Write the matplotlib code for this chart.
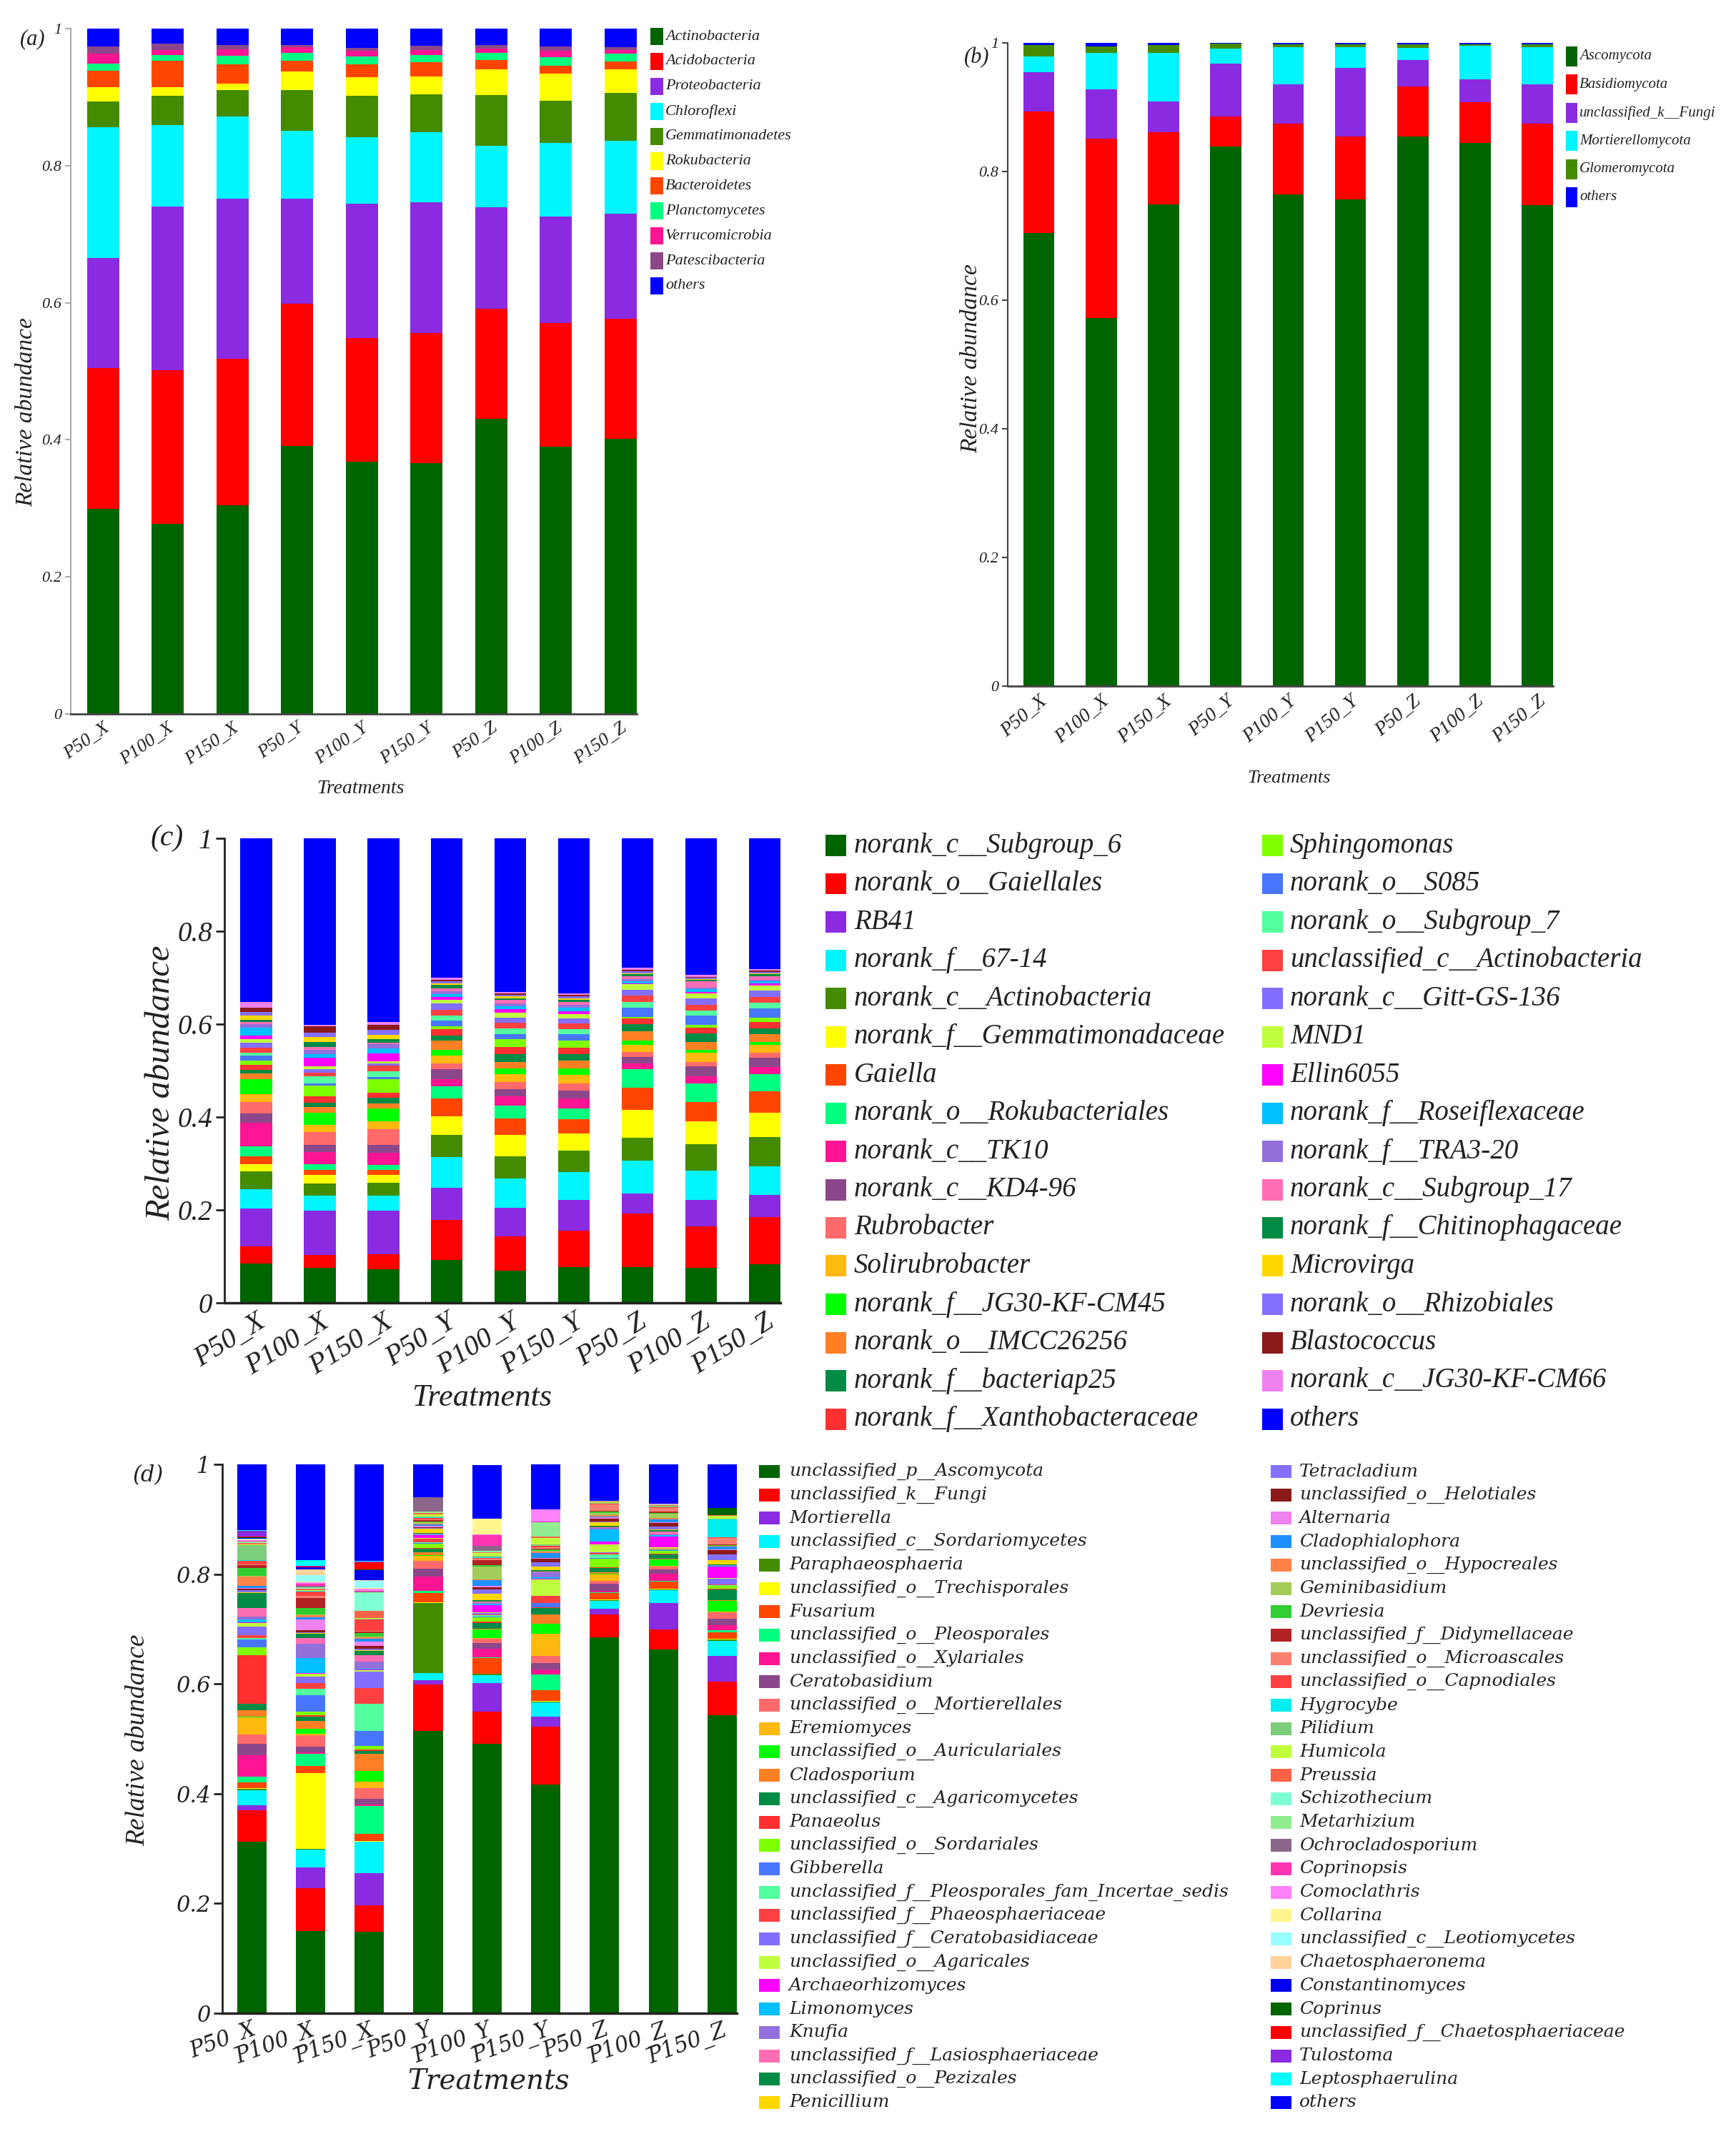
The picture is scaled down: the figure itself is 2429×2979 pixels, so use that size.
import numpy as np
import matplotlib
matplotlib.use("Agg")
import matplotlib.pyplot as plt
from matplotlib.patches import Rectangle

plt.rcParams['font.family'] = ['Liberation Serif', 'DejaVu Serif']
plt.rcParams['font.style'] = 'italic'

W, H = 2429, 2979

samples = ['P50_X', 'P100_X', 'P150_X', 'P50_Y', 'P100_Y', 'P150_Y', 'P50_Z', 'P100_Z', 'P150_Z']

# (a) bacterial phyla, one row per phylum, one value per sample
phylum_bact_labels = ['Actinobacteria', 'Acidobacteria', 'Proteobacteria', 'Chloroflexi', 'Gemmatimonadetes',
                      'Rokubacteria', 'Bacteroidetes', 'Planctomycetes', 'Verrucomicrobia', 'Patescibacteria',
                      'others']
phylum_bact = [
    [0.299, 0.277, 0.305, 0.391, 0.368, 0.366, 0.431, 0.390, 0.401],
    [0.206, 0.225, 0.213, 0.208, 0.180, 0.190, 0.160, 0.180, 0.176],
    [0.160, 0.238, 0.234, 0.153, 0.197, 0.191, 0.148, 0.156, 0.153],
    [0.191, 0.119, 0.120, 0.099, 0.096, 0.102, 0.090, 0.107, 0.106],
    [0.038, 0.043, 0.038, 0.059, 0.061, 0.055, 0.074, 0.062, 0.070],
    [0.021, 0.012, 0.010, 0.027, 0.027, 0.026, 0.038, 0.039, 0.035],
    [0.023, 0.039, 0.028, 0.016, 0.019, 0.021, 0.013, 0.012, 0.011],
    [0.011, 0.008, 0.012, 0.012, 0.011, 0.010, 0.011, 0.012, 0.011],
    [0.014, 0.008, 0.010, 0.008, 0.009, 0.008, 0.006, 0.010, 0.006],
    [0.011, 0.009, 0.006, 0.003, 0.004, 0.006, 0.005, 0.006, 0.004],
    [0.026, 0.022, 0.024, 0.024, 0.028, 0.025, 0.024, 0.026, 0.027],
]

# (b) fungal phyla
phylum_fungi_labels = ['Ascomycota', 'Basidiomycota', 'unclassified_k__Fungi', 'Mortierellomycota',
                       'Glomeromycota', 'others']
phylum_fungi = [
    [0.704, 0.572, 0.749, 0.839, 0.764, 0.757, 0.855, 0.845, 0.748],
    [0.189, 0.279, 0.112, 0.047, 0.111, 0.098, 0.077, 0.063, 0.127],
    [0.061, 0.077, 0.048, 0.082, 0.061, 0.106, 0.041, 0.035, 0.061],
    [0.025, 0.057, 0.076, 0.023, 0.057, 0.032, 0.019, 0.053, 0.057],
    [0.018, 0.010, 0.012, 0.008, 0.005, 0.005, 0.006, 0.002, 0.005],
    [0.003, 0.005, 0.003, 0.001, 0.002, 0.002, 0.002, 0.002, 0.002],
]

# (c) bacterial genera
genus_bact_labels = ['norank_c__Subgroup_6', 'norank_o__Gaiellales', 'RB41', 'norank_f__67-14',
                     'norank_c__Actinobacteria', 'norank_f__Gemmatimonadaceae', 'Gaiella',
                     'norank_o__Rokubacteriales', 'norank_c__TK10', 'norank_c__KD4-96', 'Rubrobacter',
                     'Solirubrobacter', 'norank_f__JG30-KF-CM45', 'norank_o__IMCC26256', 'norank_f__bacteriap25',
                     'norank_f__Xanthobacteraceae', 'Sphingomonas', 'norank_o__S085', 'norank_o__Subgroup_7',
                     'unclassified_c__Actinobacteria', 'norank_c__Gitt-GS-136', 'MND1', 'Ellin6055',
                     'norank_f__Roseiflexaceae', 'norank_f__TRA3-20', 'norank_c__Subgroup_17',
                     'norank_f__Chitinophagaceae', 'Microvirga', 'norank_o__Rhizobiales', 'Blastococcus',
                     'norank_c__JG30-KF-CM66', 'others']
genus_bact = [
    [0.085, 0.075, 0.073, 0.092, 0.070, 0.077, 0.077, 0.075, 0.083],
    [0.036, 0.028, 0.031, 0.087, 0.073, 0.079, 0.115, 0.090, 0.101],
    [0.082, 0.095, 0.094, 0.068, 0.062, 0.066, 0.043, 0.056, 0.048],
    [0.042, 0.033, 0.033, 0.067, 0.062, 0.060, 0.071, 0.063, 0.062],
    [0.038, 0.026, 0.027, 0.047, 0.049, 0.045, 0.050, 0.058, 0.063],
    [0.016, 0.018, 0.017, 0.040, 0.045, 0.037, 0.059, 0.049, 0.053],
    [0.016, 0.011, 0.011, 0.039, 0.036, 0.031, 0.048, 0.041, 0.046],
    [0.022, 0.013, 0.011, 0.026, 0.028, 0.024, 0.040, 0.040, 0.036],
    [0.051, 0.025, 0.026, 0.015, 0.019, 0.021, 0.012, 0.015, 0.016],
    [0.020, 0.016, 0.017, 0.022, 0.016, 0.017, 0.015, 0.022, 0.020],
    [0.024, 0.027, 0.034, 0.013, 0.015, 0.015, 0.010, 0.009, 0.010],
    [0.018, 0.016, 0.017, 0.016, 0.017, 0.019, 0.016, 0.021, 0.018],
    [0.031, 0.027, 0.028, 0.013, 0.012, 0.013, 0.008, 0.005, 0.005],
    [0.013, 0.011, 0.011, 0.019, 0.014, 0.017, 0.020, 0.018, 0.018],
    [0.008, 0.010, 0.011, 0.012, 0.018, 0.015, 0.016, 0.018, 0.012],
    [0.011, 0.013, 0.012, 0.014, 0.015, 0.014, 0.012, 0.013, 0.014],
    [0.008, 0.023, 0.029, 0.005, 0.016, 0.015, 0.003, 0.005, 0.009],
    [0.011, 0.005, 0.004, 0.012, 0.012, 0.013, 0.021, 0.020, 0.020],
    [0.007, 0.015, 0.012, 0.011, 0.012, 0.012, 0.012, 0.011, 0.012],
    [0.010, 0.008, 0.012, 0.013, 0.012, 0.011, 0.014, 0.013, 0.012],
    [0.011, 0.008, 0.005, 0.013, 0.011, 0.011, 0.012, 0.014, 0.014],
    [0.007, 0.006, 0.005, 0.009, 0.011, 0.009, 0.012, 0.010, 0.011],
    [0.008, 0.018, 0.017, 0.005, 0.007, 0.007, 0.002, 0.003, 0.004],
    [0.017, 0.008, 0.010, 0.007, 0.007, 0.008, 0.005, 0.006, 0.005],
    [0.008, 0.010, 0.010, 0.006, 0.005, 0.006, 0.004, 0.004, 0.004],
    [0.004, 0.005, 0.003, 0.006, 0.008, 0.006, 0.006, 0.013, 0.007],
    [0.006, 0.012, 0.007, 0.007, 0.004, 0.004, 0.004, 0.003, 0.004],
    [0.008, 0.010, 0.010, 0.004, 0.004, 0.004, 0.003, 0.002, 0.003],
    [0.008, 0.010, 0.010, 0.004, 0.003, 0.004, 0.004, 0.003, 0.003],
    [0.009, 0.014, 0.011, 0.003, 0.003, 0.003, 0.003, 0.002, 0.002],
    [0.013, 0.002, 0.007, 0.005, 0.004, 0.003, 0.005, 0.004, 0.004],
    [0.352, 0.402, 0.395, 0.300, 0.330, 0.334, 0.278, 0.294, 0.281],
]

# (d) fungal genera
genus_fungi_labels = ['unclassified_p__Ascomycota', 'unclassified_k__Fungi', 'Mortierella',
                      'unclassified_c__Sordariomycetes', 'Paraphaeosphaeria', 'unclassified_o__Trechisporales',
                      'Fusarium', 'unclassified_o__Pleosporales', 'unclassified_o__Xylariales', 'Ceratobasidium',
                      'unclassified_o__Mortierellales', 'Eremiomyces', 'unclassified_o__Auriculariales',
                      'Cladosporium', 'unclassified_c__Agaricomycetes', 'Panaeolus', 'unclassified_o__Sordariales',
                      'Gibberella', 'unclassified_f__Pleosporales_fam_Incertae_sedis',
                      'unclassified_f__Phaeosphaeriaceae', 'unclassified_f__Ceratobasidiaceae',
                      'unclassified_o__Agaricales', 'Archaeorhizomyces', 'Limonomyces', 'Knufia',
                      'unclassified_f__Lasiosphaeriaceae', 'unclassified_o__Pezizales', 'Penicillium',
                      'Tetracladium', 'unclassified_o__Helotiales', 'Alternaria', 'Cladophialophora',
                      'unclassified_o__Hypocreales', 'Geminibasidium', 'Devriesia', 'unclassified_f__Didymellaceae',
                      'unclassified_o__Microascales', 'unclassified_o__Capnodiales', 'Hygrocybe', 'Pilidium',
                      'Humicola', 'Preussia', 'Schizothecium', 'Metarhizium', 'Ochrocladosporium', 'Coprinopsis',
                      'Comoclathris', 'Collarina', 'unclassified_c__Leotiomycetes', 'Chaetosphaeronema',
                      'Constantinomyces', 'Coprinus', 'unclassified_f__Chaetosphaeriaceae', 'Tulostoma',
                      'Leptosphaerulina', 'others']
genus_fungi = [
    [0.312, 0.150, 0.148, 0.514, 0.491, 0.417, 0.685, 0.663, 0.543],
    [0.058, 0.078, 0.049, 0.085, 0.059, 0.105, 0.041, 0.036, 0.061],
    [0.009, 0.037, 0.058, 0.008, 0.051, 0.018, 0.011, 0.048, 0.047],
    [0.027, 0.033, 0.057, 0.013, 0.015, 0.027, 0.014, 0.024, 0.028],
    [0.003, 0.002, 0.001, 0.128, 0.002, 0.001, 0.002, 0.001, 0.002],
    [0.001, 0.137, 0.001, 0.001, 0.001, 0.001, 0.001, 0.001, 0.001],
    [0.011, 0.014, 0.013, 0.017, 0.028, 0.020, 0.011, 0.014, 0.012],
    [0.010, 0.022, 0.051, 0.004, 0.002, 0.028, 0.002, 0.001, 0.004],
    [0.039, 0.002, 0.002, 0.026, 0.015, 0.009, 0.002, 0.013, 0.009],
    [0.021, 0.011, 0.011, 0.014, 0.011, 0.012, 0.013, 0.008, 0.012],
    [0.017, 0.021, 0.019, 0.014, 0.007, 0.013, 0.006, 0.005, 0.011],
    [0.031, 0.002, 0.012, 0.009, 0.002, 0.040, 0.011, 0.001, 0.002],
    [0.002, 0.009, 0.020, 0.001, 0.015, 0.018, 0.002, 0.012, 0.019],
    [0.011, 0.014, 0.031, 0.006, 0.002, 0.017, 0.002, 0.001, 0.002],
    [0.012, 0.009, 0.005, 0.007, 0.010, 0.012, 0.008, 0.008, 0.019],
    [0.088, 0.002, 0.002, 0.001, 0.002, 0.001, 0.002, 0.001, 0.001],
    [0.015, 0.007, 0.007, 0.008, 0.008, 0.001, 0.015, 0.006, 0.005],
    [0.014, 0.029, 0.027, 0.001, 0.002, 0.007, 0.002, 0.001, 0.001],
    [0.003, 0.012, 0.050, 0.001, 0.002, 0.001, 0.006, 0.001, 0.001],
    [0.005, 0.010, 0.029, 0.006, 0.002, 0.012, 0.002, 0.001, 0.001],
    [0.015, 0.012, 0.029, 0.001, 0.002, 0.001, 0.002, 0.001, 0.011],
    [0.007, 0.006, 0.003, 0.001, 0.002, 0.030, 0.014, 0.002, 0.001],
    [0.001, 0.001, 0.001, 0.005, 0.013, 0.001, 0.006, 0.020, 0.021],
    [0.006, 0.027, 0.001, 0.001, 0.002, 0.002, 0.022, 0.002, 0.001],
    [0.005, 0.026, 0.014, 0.001, 0.002, 0.009, 0.002, 0.002, 0.001],
    [0.015, 0.011, 0.011, 0.001, 0.002, 0.002, 0.002, 0.005, 0.001],
    [0.028, 0.008, 0.008, 0.001, 0.002, 0.002, 0.002, 0.002, 0.001],
    [0.001, 0.001, 0.001, 0.008, 0.012, 0.007, 0.006, 0.002, 0.007],
    [0.004, 0.001, 0.003, 0.001, 0.008, 0.008, 0.002, 0.005, 0.011],
    [0.003, 0.004, 0.005, 0.002, 0.004, 0.006, 0.005, 0.006, 0.008],
    [0.001, 0.019, 0.008, 0.002, 0.002, 0.002, 0.002, 0.002, 0.001],
    [0.004, 0.005, 0.005, 0.002, 0.011, 0.009, 0.002, 0.005, 0.005],
    [0.017, 0.003, 0.003, 0.002, 0.002, 0.002, 0.002, 0.002, 0.001],
    [0.001, 0.001, 0.001, 0.002, 0.023, 0.002, 0.005, 0.008, 0.001],
    [0.014, 0.012, 0.007, 0.002, 0.002, 0.002, 0.002, 0.002, 0.001],
    [0.006, 0.019, 0.002, 0.002, 0.010, 0.002, 0.002, 0.002, 0.001],
    [0.001, 0.003, 0.002, 0.002, 0.002, 0.002, 0.011, 0.007, 0.012],
    [0.006, 0.008, 0.020, 0.002, 0.002, 0.002, 0.001, 0.001, 0.001],
    [0.001, 0.001, 0.001, 0.001, 0.001, 0.001, 0.001, 0.000, 0.033],
    [0.028, 0.001, 0.001, 0.002, 0.002, 0.002, 0.001, 0.002, 0.001],
    [0.001, 0.001, 0.001, 0.004, 0.005, 0.012, 0.001, 0.001, 0.005],
    [0.003, 0.003, 0.013, 0.002, 0.002, 0.002, 0.001, 0.001, 0.001],
    [0.001, 0.001, 0.033, 0.001, 0.001, 0.001, 0.000, 0.000, 0.000],
    [0.001, 0.001, 0.001, 0.002, 0.002, 0.025, 0.001, 0.001, 0.000],
    [0.001, 0.002, 0.001, 0.026, 0.008, 0.001, 0.000, 0.000, 0.000],
    [0.001, 0.005, 0.001, 0.000, 0.020, 0.001, 0.000, 0.000, 0.000],
    [0.001, 0.002, 0.005, 0.000, 0.002, 0.022, 0.001, 0.001, 0.001],
    [0.001, 0.001, 0.001, 0.000, 0.028, 0.000, 0.000, 0.000, 0.000],
    [0.001, 0.012, 0.013, 0.000, 0.000, 0.000, 0.000, 0.000, 0.000],
    [0.001, 0.011, 0.001, 0.000, 0.000, 0.000, 0.000, 0.000, 0.000],
    [0.001, 0.003, 0.018, 0.000, 0.000, 0.000, 0.000, 0.000, 0.000],
    [0.001, 0.001, 0.001, 0.000, 0.000, 0.000, 0.000, 0.000, 0.013],
    [0.001, 0.001, 0.014, 0.000, 0.000, 0.000, 0.000, 0.000, 0.000],
    [0.011, 0.001, 0.001, 0.000, 0.000, 0.000, 0.000, 0.000, 0.000],
    [0.001, 0.011, 0.001, 0.000, 0.000, 0.000, 0.000, 0.000, 0.000],
    [0.120, 0.174, 0.177, 0.060, 0.098, 0.083, 0.066, 0.072, 0.079],
]

base_colors = ['#006400', '#FF0000', '#8A2BE2', '#00F5FF', '#458B00', '#FFFF00', '#FF4500', '#00FF7F',
               '#FF1493', '#8B4789', '#FF6A6A', '#FFB90F', '#00FF00', '#FF7F24', '#008B45', '#FF3030',
               '#7FFF00', '#4876FF', '#54FF9F', '#FF4040', '#836FFF', '#C0FF3E', '#FF00FF', '#00BFFF',
               '#9370DB', '#FF6EB4', '#008B45', '#FFD700', '#8470FF', '#8B1A1A', '#EE82EE']
extra_colors = ['#1E90FF', '#FF8247', '#A2CD5A', '#32CD32', '#B22222', '#FA8072', '#FF4040', '#00EEEE',
                '#7CCD7C', '#C0FF3E', '#FF6347', '#7FFFD4', '#90EE90', '#8B668B', '#FF34B3', '#FF83FA',
                '#FFF68F', '#97FFFF', '#FFD39B', '#0000EE', '#006400', '#FF0000', '#8A2BE2', '#00FFFF']
others_color = '#0000FF'

colors_a = base_colors[:10] + [others_color]
colors_b = base_colors[:5] + [others_color]
colors_c = base_colors + [others_color]
colors_d = base_colors + extra_colors + [others_color]

TXT = '#222222'


def add_axes_px(fig, left, top, right, bottom):
    return fig.add_axes([left / W, 1 - bottom / H, (right - left) / W, (bottom - top) / H])


def draw_stack(ax, table, colors):
    x = np.arange(len(samples))
    base = np.zeros(len(samples))
    for vals, col in zip(table, colors):
        ax.bar(x, vals, 0.5, bottom=base, color=col, linewidth=0)
        base = base + np.array(vals)


def style_axes(ax, ysize, xsize, rot, family, lcolor, bcolor, lw, tlen):
    ax.set_xlim(-0.5, 8.25)
    ax.set_ylim(0, 1)
    ax.set_yticks([0, 0.2, 0.4, 0.6, 0.8, 1])
    ax.set_yticklabels(['0', '0.2', '0.4', '0.6', '0.8', '1'], fontsize=ysize, family=family, color=TXT)
    ax.set_xticks(range(len(samples)))
    ax.set_xticklabels(samples, rotation=rot, ha='right', va='top', rotation_mode='anchor',
                       fontsize=xsize, family=family, color=TXT)
    ax.tick_params(axis='x', length=0, pad=6)
    ax.tick_params(axis='y', length=tlen, width=lw, color=lcolor, pad=3)
    for s in ['top', 'right']:
        ax.spines[s].set_visible(False)
    ax.spines['left'].set_color(lcolor)
    ax.spines['left'].set_linewidth(lw)
    ax.spines['bottom'].set_color(bcolor)
    ax.spines['bottom'].set_linewidth(lw + 0.5)


def draw_legend(fig, labels, colors, sq_x, sq_w, sq_h, txt_x, y0, step, size, family):
    for i, (lab, col) in enumerate(zip(labels, colors)):
        y = y0 + i * step
        fig.add_artist(Rectangle((sq_x / W, 1 - (y + sq_h / 2) / H), sq_w / W, sq_h / H,
                                 transform=fig.transFigure, facecolor=col, linewidth=0))
        fig.text(txt_x / W, 1 - y / H, lab, fontsize=size, family=family, color=TXT,
                 ha='left', va='center')


def put_text(fig, x, y, s, size, family, rot=0):
    fig.text(x / W, 1 - y / H, s, fontsize=size, family=family, color=TXT, rotation=rot,
             ha='center', va='center')


serif = ['Liberation Serif', 'DejaVu Serif']
wide = ['DejaVu Serif']

fig = plt.figure(figsize=(W / 100, H / 100), dpi=100)

# (a)
ax_a = add_axes_px(fig, 99, 40, 891, 999)
draw_stack(ax_a, phylum_bact, colors_a)
style_axes(ax_a, 16, 19, 35, serif, '#AAAAAA', '#444444', 1.5, 6)
draw_legend(fig, phylum_bact_labels, colors_a, 910, 18, 24, 931, 51, 34.9, 16, serif)
put_text(fig, 46, 55, '(a)', 22, serif)
put_text(fig, 37, 577, 'Relative abundance', 24, serif, 90)
put_text(fig, 504, 1103, 'Treatments', 20, serif)

# (b)
ax_b = add_axes_px(fig, 1410, 60, 2173, 960)
draw_stack(ax_b, phylum_fungi, colors_b)
style_axes(ax_b, 16, 20, 40, serif, '#444444', '#444444', 1.5, 6)
draw_legend(fig, phylum_fungi_labels, colors_b, 2191, 16, 28, 2210, 79, 39.4, 15, serif)
put_text(fig, 1367, 81, '(b)', 22, serif)
put_text(fig, 1359, 502, 'Relative abundance', 24, serif, 90)
put_text(fig, 1803, 1089, 'Treatments', 19, serif)

# (c)
ax_c = add_axes_px(fig, 314, 1173, 1092, 1823)
draw_stack(ax_c, genus_bact, colors_c)
style_axes(ax_c, 28, 29, 32, serif, '#222222', '#222222', 2, 9)
draw_legend(fig, genus_bact_labels[:16], colors_c[:16], 1155, 29, 30, 1195, 1183, 53.5, 28, serif)
draw_legend(fig, genus_bact_labels[16:], colors_c[16:], 1766, 29, 30, 1805, 1183, 53.5, 28, serif)
put_text(fig, 234, 1173, '(c)', 30, serif)
put_text(fig, 225, 1515, 'Relative abundance', 35, serif, 90)
put_text(fig, 674, 1956, 'Treatments', 32, serif)

# (d)
ax_d = add_axes_px(fig, 311, 2049, 1031, 2817)
draw_stack(ax_d, genus_fungi, colors_d)
style_axes(ax_d, 22, 22, 20, wide, '#222222', '#222222', 2, 9)
draw_legend(fig, genus_fungi_labels[:28], colors_d[:28], 1062, 29, 18, 1104, 2059, 32.7, 18, wide)
draw_legend(fig, genus_fungi_labels[28:], colors_d[28:], 1778, 29, 18, 1818, 2059, 32.7, 18, wide)
put_text(fig, 207, 2065, '(d)', 22, wide)
put_text(fig, 193, 2435, 'Relative abundance', 27, serif, 90)
put_text(fig, 684, 2912, 'Treatments', 28, wide)

fig.savefig('out.png', dpi=100, facecolor='white')
